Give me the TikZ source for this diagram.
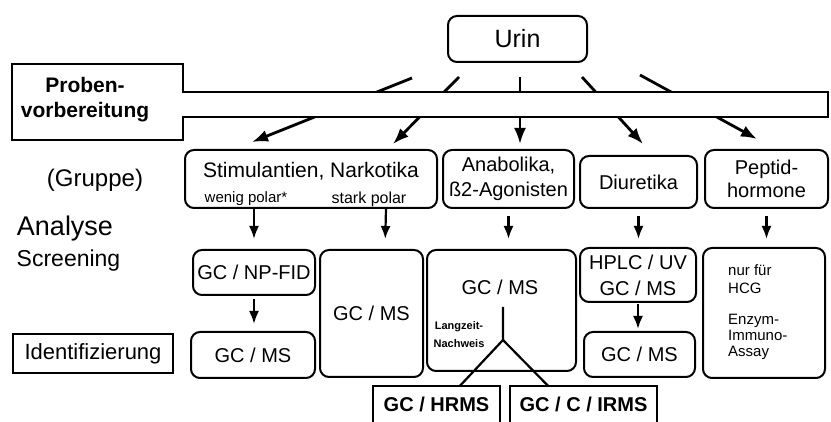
\documentclass[tikz,border=0pt]{standalone}
\usepackage{fontspec}
\setmainfont{Liberation Sans}
\usetikzlibrary{arrows.meta,positioning,calc}

\begin{document}
\begin{tikzpicture}[x=1pt, y=-1pt,
  box/.style={draw, rounded corners=9pt, line width=2pt, inner sep=0pt, align=center, font=\fontsize{20}{24}\selectfont},
  txt/.style={inner sep=0pt, align=center, font=\fontsize{20}{24}\selectfont},
  side/.style={inner sep=0pt, font=\fontsize{24}{28}\selectfont},
  small/.style={inner sep=0pt, align=left, font=\fontsize{15}{17}\selectfont},
  arr/.style={line width=2.2pt, -{Latex[length=13pt,width=10pt]}},
  bigarr/.style={line width=2.8pt, -{Latex[length=16pt,width=12pt]}},
  ]
  \useasboundingbox (0,0) rectangle (831,422);

  % top and group row
  \node[box, minimum width=139pt, minimum height=46pt, font=\fontsize{25}{28}\selectfont] (urin) at (517.5,39) {Urin};
  \node[box, minimum width=252pt, minimum height=58pt] (stim) at (311,179) {};
  \node[box, minimum width=131pt, minimum height=58pt, font=\fontsize{20}{25}\selectfont] (anab) at (508.5,179) {Anabolika,\\ß2-Agonisten};
  \node[box, minimum width=117pt, minimum height=52pt] (diur) at (638.5,182) {Diuretika};
  \node[box, minimum width=123pt, minimum height=58pt, font=\fontsize{20}{23}\selectfont] (pept) at (766.5,179) {Peptid-\\hormone};

  \node[txt, font=\fontsize{21}{24}\selectfont] (stimtxt) at (311,171) {Stimulantien, Narkotika};
  \node[txt, font=\fontsize{15}{17}\selectfont] (wenig) at (246,199) {wenig polar*};
  \node[txt, font=\fontsize{16}{18}\selectfont] (stark) at (369,199) {stark polar};

  % arrows from Urin, partly hidden by the band
  \coordinate (u1) at (412,78);
  \coordinate (u2) at (459,77);
  \coordinate (u3) at (520,77);
  \coordinate (u4) at (582,77);
  \coordinate (u5) at (640,75);
  \draw[bigarr] (u1) -- ([xshift=68pt,yshift=7pt]stim.north west);
  \draw[bigarr] (u2) -- ([xshift=-45pt,yshift=5pt]stim.north east);
  \draw[bigarr] (u3) -- ([xshift=11.5pt,yshift=5pt]anab.north);
  \draw[bigarr] (u4) -- ([xshift=4.5pt,yshift=11pt]diur.north);
  \draw[bigarr] (u5) -- ([xshift=-9.5pt,yshift=10pt]pept.north);

  % Probenvorbereitung band
  \draw[line width=2pt, fill=white] (12,64) -- (183,64) -- (183,92) -- (828,92) -- (828,117)
    -- (183,117) -- (183,140) -- (12,140) -- cycle;
  \node[inner sep=0pt, align=center, font=\bfseries\fontsize{21}{25}\selectfont] (prep) at (85,100) {Proben-\\vorbereitung};

  % left labels
  \node[side] (gruppe) at (95,180) {(Gruppe)};
  \node[side, font=\fontsize{27}{30}\selectfont] (analyse) at (65,229) {Analyse};
  \node[side, font=\fontsize{23}{26}\selectfont] (screen) at (68.5,261) {Screening};
  \node[draw, line width=2pt, minimum width=160pt, minimum height=39pt, inner sep=0pt,
    font=\fontsize{22}{26}\selectfont] (ident) at (93,353.5) {Identifizierung};

  % screening and identification row
  \node[box, minimum width=122pt, minimum height=45pt] (npfid) at (254,272.5) {GC / NP-FID};
  \node[box, minimum width=124pt, minimum height=46pt] (stimms) at (253,355) {GC / MS};
  \node[box, minimum width=103pt, minimum height=127pt] (narkms) at (371.5,313.5) {GC / MS};
  \node[box, minimum width=149pt, minimum height=121pt] (anabms) at (501.5,310.5) {};
  \node[txt] (anabtxt) at (500,287) {GC / MS};
  \node[box, minimum width=116pt, minimum height=54pt, font=\fontsize{20}{26}\selectfont] (hplc) at (638,275) {HPLC / UV\\GC / MS};
  \node[box, minimum width=111pt, minimum height=45pt] (diurms) at (639.5,354.5) {GC / MS};
  \node[box, minimum width=122pt, minimum height=130pt] (peptbox) at (764,313) {};
  \node[small, anchor=west, font=\fontsize{15}{18}\selectfont] (hcg) at (728,279) {nur für\\HCG};
  \node[small, anchor=west, font=\fontsize{15}{16}\selectfont] (eia) at (728,337) {Enzym-\\Immuno-\\Assay};

  % vertical arrows
  \draw[arr, shorten >=10pt] (stim.south -| npfid.north) -- (npfid.north);
  \draw[arr, shorten >=10pt] ($(stim.south east)+(-52,0)$) -- ($(narkms.north)+(13.5,0)$);
  \draw[arr, shorten <=7pt, shorten >=10pt] (anab.south) -- (anab.south |- anabms.north);
  \draw[arr, shorten <=7pt, shorten >=8pt] (diur.south) -- (diur.south |- hplc.north);
  \draw[arr, shorten <=7pt, shorten >=8pt] (pept.south) -- (pept.south |- peptbox.north);
  \draw[arr, shorten <=3pt, shorten >=7pt] (npfid.south) -- (npfid.south |- stimms.north);
  \draw[arr, shorten <=1pt, shorten >=2pt] (hplc.south) -- (hplc.south |- diurms.north);

  % Langzeit-Nachweis fork
  \node[inner sep=0pt, align=center, font=\bfseries\fontsize{11}{18}\selectfont] (langzeit) at (459,335) {Langzeit-\\Nachweis};
  \node[inner sep=0pt, minimum width=127pt, minimum height=36pt, font=\bfseries\fontsize{20}{24}\selectfont] (hrms) at (436.5,404) {GC / HRMS};
  \node[inner sep=0pt, minimum width=147pt, minimum height=36pt, font=\bfseries\fontsize{20}{24}\selectfont] (irms) at (583.5,404) {GC / C / IRMS};
  \draw[line width=2pt] (hrms.south west) -- (hrms.north west) -- (hrms.north east) -- (hrms.south east);
  \draw[line width=2pt] (irms.south west) -- (irms.north west) -- (irms.north east) -- (irms.south east);
  \coordinate (forktop) at (503,307);
  \coordinate (fork) at (503,340);
  \draw[line width=2.2pt] (forktop) -- (fork) -- ([xshift=23.5pt]hrms.north);
  \draw[line width=2.2pt] (fork) -- ([xshift=-35.5pt]irms.north);
\end{tikzpicture}
\end{document}
